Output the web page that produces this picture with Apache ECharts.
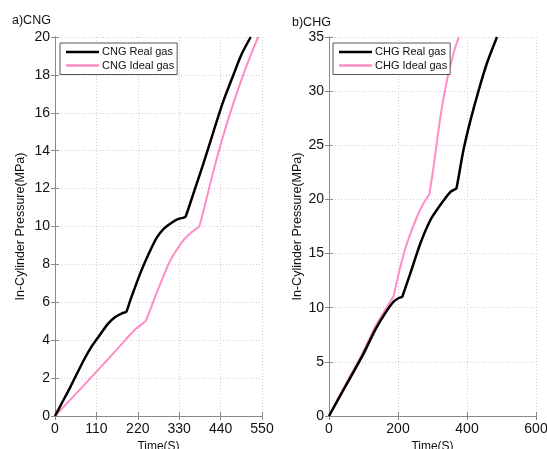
<!DOCTYPE html>
<html>
<head>
<meta charset="utf-8">
<script src="https://cdn.jsdelivr.net/npm/echarts@6/dist/echarts.min.js"></script>
<style>
html,body{margin:0;padding:0;background:#fff;}
#chart{width:547px;height:449px;}
</style>
</head>
<body>
<div id="chart"></div>
<script>
// ---- Data (time in s, pressure in MPa) ----
const cngRealTime  = [0, 20, 40, 76, 100, 120, 140, 160, 178, 186, 190, 200, 226, 250, 270, 290, 310, 328, 342, 347, 367, 394, 421, 447, 474, 496, 520];
const cngRealP     = [0, 0.75, 1.5, 2.93, 3.75, 4.3, 4.85, 5.22, 5.42, 5.47, 5.52, 6.1, 7.5, 8.6, 9.4, 9.9, 10.2, 10.4, 10.47, 10.52, 11.7, 13.3, 15.0, 16.6, 18.0, 19.1, 20];
const cngIdealTime = [0, 76, 120, 150, 191, 215, 236, 240, 245, 270, 306, 341, 360, 379, 383, 387, 398, 420, 447, 474, 500, 522, 540];
const cngIdealP    = [0, 1.6, 2.55, 3.2, 4.1, 4.6, 4.93, 5.0, 5.2, 6.48, 8.2, 9.27, 9.65, 9.93, 10.0, 10.25, 11.1, 12.85, 14.8, 16.5, 18.0, 19.15, 20];
const chgRealTime  = [0, 47, 96, 134, 163, 187, 200, 208, 212, 216, 236, 265, 294, 323, 352, 365, 369, 373, 390, 410, 434, 458, 487];
const chgRealP     = [0, 2.7, 5.5, 7.95, 9.5, 10.55, 10.85, 10.96, 11.0, 11.35, 13.2, 15.95, 18.1, 19.5, 20.7, 20.93, 21.0, 21.6, 24.6, 27.3, 30.1, 32.6, 35];
const chgIdealTime = [0, 47, 96, 134, 163, 183, 187, 191, 207, 226, 255, 275, 287, 291, 295, 303, 323, 342, 361, 376];
const chgIdealP    = [0, 2.86, 5.73, 8.25, 9.8, 10.85, 11.05, 11.6, 13.8, 15.95, 18.4, 19.7, 20.3, 20.5, 21.3, 23.0, 27.65, 31.0, 33.5, 35];

const cngXTicks = [0, 110, 220, 330, 440, 550];
const cngYTicks = [0, 2, 4, 6, 8, 10, 12, 14, 16, 18, 20];
const chgXTicks = [0, 200, 400, 600];
const chgYTicks = [0, 5, 10, 15, 20, 25, 30, 35];

const seriesNames = ['CNG Real gas', 'CNG Ideal gas', 'CHG Real gas', 'CHG Ideal gas'];
const titles = ['a)CNG', 'b)CHG'];
const xName = 'Time(S)';
const yName = 'In-Cylinder Pressure(MPa)';

// ---- Build ----
const zip = (a, b) => a.map((v, i) => [v, b[i]]);
const FONT = '"Liberation Sans", Arial, sans-serif';
const AX = '#8a8a8a';
const BLACK = '#000000';
const PINK = '#ff8cc6';

function mainX(idx, ticks) {
  return {
    type: 'value', gridIndex: idx, position: 'bottom',
    min: ticks[0], max: ticks[ticks.length - 1], interval: ticks[1] - ticks[0],
    name: xName, nameLocation: 'middle', nameGap: 21,
    nameTextStyle: { fontFamily: FONT, fontSize: 12, color: '#111' },
    axisLine: { show: true, lineStyle: { color: AX, width: 1 } },
    axisTick: { show: true, inside: true, length: 4, lineStyle: { color: AX } },
    axisLabel: { fontFamily: FONT, fontSize: 14, color: '#111', margin: 6, showMinLabel: true, showMaxLabel: true },
    splitLine: { show: true, lineStyle: { type: [1, 2], color: '#cfcfcf', width: 1 } }
  };
}
function mirrorX(idx, ticks) {
  return {
    type: 'value', gridIndex: idx, position: 'top',
    min: ticks[0], max: ticks[ticks.length - 1], interval: ticks[1] - ticks[0],
    axisLine: { show: true, lineStyle: { color: AX, width: 1 } },
    axisTick: { show: true, inside: true, length: 4, lineStyle: { color: AX } },
    axisLabel: { show: false }, splitLine: { show: false }
  };
}
function mainY(idx, ticks, gap) {
  return {
    type: 'value', gridIndex: idx, position: 'left',
    min: ticks[0], max: ticks[ticks.length - 1], interval: ticks[1] - ticks[0],
    name: yName, nameLocation: 'middle', nameGap: gap,
    nameTextStyle: { fontFamily: FONT, fontSize: 12.5, color: '#111' },
    axisLine: { show: true, lineStyle: { color: AX, width: 1 } },
    axisTick: { show: true, inside: true, length: 4, lineStyle: { color: AX } },
    axisLabel: { fontFamily: FONT, fontSize: 14, color: '#111', margin: 5, showMinLabel: true, showMaxLabel: true },
    splitLine: { show: true, lineStyle: { type: [1, 2], color: '#cfcfcf', width: 1 } }
  };
}
function mirrorY(idx, ticks) {
  return {
    type: 'value', gridIndex: idx, position: 'right',
    min: ticks[0], max: ticks[ticks.length - 1], interval: ticks[1] - ticks[0],
    axisLine: { show: true, lineStyle: { color: AX, width: 1 } },
    axisTick: { show: true, inside: true, length: 4, lineStyle: { color: AX } },
    axisLabel: { show: false }, splitLine: { show: false }
  };
}
function legend(left, names) {
  return {
    orient: 'vertical', left: left, top: 43,
    data: names.map(n => ({ name: n, icon: 'rect' })),
    itemWidth: 33, itemHeight: 2.5, itemGap: 1.5,
    padding: [3, 3, 3, 6],
    backgroundColor: '#ffffff', borderColor: '#555', borderWidth: 1, borderRadius: 0,
    textStyle: { fontFamily: FONT, fontSize: 11, color: '#111', lineHeight: 12, padding: [0, 0, 0, -2] }
  };
}
function line(name, xi, yi, data, color, w) {
  return {
    name: name, type: 'line', xAxisIndex: xi, yAxisIndex: yi,
    data: data, symbol: 'none', showSymbol: false, smooth: 0.25, clip: true,
    lineStyle: { color: color, width: w }, itemStyle: { color: color },
    z: color === BLACK ? 3 : 2, animation: false
  };
}

const chart = echarts.init(document.getElementById('chart'), null, { renderer: 'canvas' });
chart.setOption({
  animation: false,
  backgroundColor: '#fff',
  title: [
    { text: titles[0], left: 7, top: 9, textStyle: { fontFamily: FONT, fontSize: 12.5, fontWeight: 'normal', color: '#111' } },
    { text: titles[1], left: 287, top: 11, textStyle: { fontFamily: FONT, fontSize: 12.5, fontWeight: 'normal', color: '#111' } }
  ],
  grid: [
    { left: 55, top: 37, width: 207, height: 379, containLabel: false, outerBoundsMode: 'none' },
    { left: 329, top: 37, width: 207, height: 379, containLabel: false, outerBoundsMode: 'none' }
  ],
  legend: [ legend(60, [seriesNames[0], seriesNames[1]]), legend(333, [seriesNames[2], seriesNames[3]]) ],
  xAxis: [ mainX(0, cngXTicks), mirrorX(0, cngXTicks), mainX(1, chgXTicks), mirrorX(1, chgXTicks) ],
  yAxis: [ mainY(0, cngYTicks, 28), mirrorY(0, cngYTicks), mainY(1, chgYTicks, 25), mirrorY(1, chgYTicks) ],
  series: [
    line(seriesNames[1], 0, 0, zip(cngIdealTime, cngIdealP), PINK, 2),
    line(seriesNames[0], 0, 0, zip(cngRealTime, cngRealP), BLACK, 2.5),
    line(seriesNames[3], 2, 2, zip(chgIdealTime, chgIdealP), PINK, 2),
    line(seriesNames[2], 2, 2, zip(chgRealTime, chgRealP), BLACK, 2.5)
  ]
});
</script>
</body>
</html>
